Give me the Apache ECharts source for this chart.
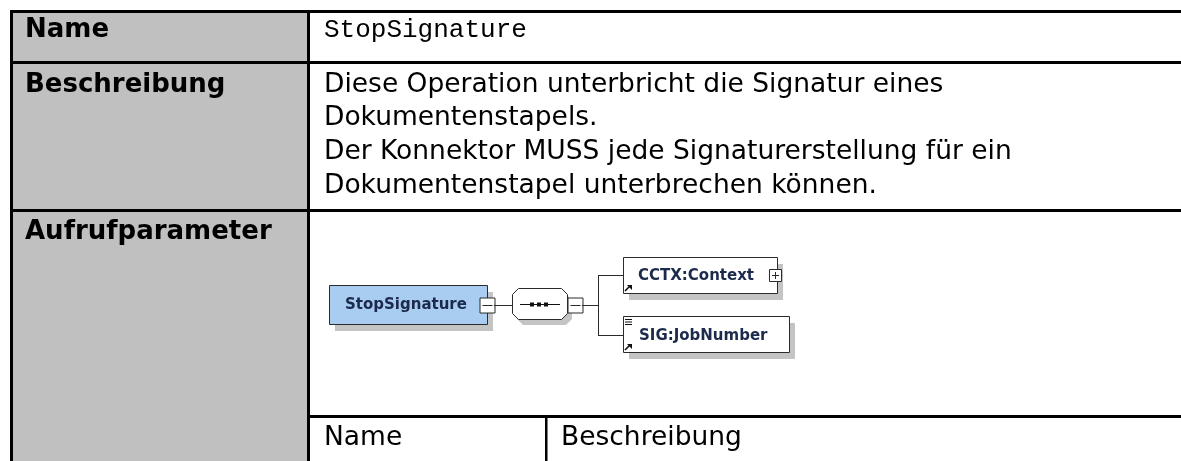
<!DOCTYPE html>
<html>
<head>
<meta charset="utf-8">
<script src="https://cdn.jsdelivr.net/npm/echarts@6/dist/echarts.min.js"></script>
<style>
html,body{margin:0;padding:0;background:#fff;}
#c{width:1181px;height:461px;}
</style>
</head>
<body>
<div id="c"></div>
<script>
// ---- content ----
const rowLabels = ['Name', 'Beschreibung', 'Aufrufparameter'];
const operationName = 'StopSignature';
const descriptionLines = [
  'Diese Operation unterbricht die Signatur eines',
  'Dokumentenstapels.',
  'Der Konnektor MUSS jede Signaturerstellung für ein',
  'Dokumentenstapel unterbrechen können.'
];
const subHeaders = ['Name', 'Beschreibung'];
const rootElement = 'StopSignature';
const childElements = ['CCTX:Context', 'SIG:JobNumber'];

// ---- layout ----
const W = 1181, H = 461;
const BOLD = 'bold 26px "DejaVu Sans"';
const REG = '26.5px "DejaVu Sans"';
const MONO = '26px "Liberation Mono"';
const DFONT = 'bold 15px "DejaVu Sans"';
const DCOL = '#1c2a4c';
const LINE = '#2b2b2b';
const SHADOW = '#c4c4c4';

const els = [];
let z = 0;
function rect(x, y, w, h, fill, stroke, lw) {
  els.push({type: 'rect', z: z++, shape: {x, y, width: w, height: h},
    style: {fill: fill || 'none', stroke: stroke || null, lineWidth: lw || 0}});
}
function line(x1, y1, x2, y2, col, lw) {
  els.push({type: 'line', z: z++, shape: {x1, y1, x2, y2},
    style: {stroke: col || LINE, lineWidth: lw || 1}});
}
function text(t, x, y, font, fill, align) {
  els.push({type: 'text', z: z++, x: 0, y: 0,
    style: {text: t, x, y, font, fill: fill || '#000',
      textAlign: align || 'left', textVerticalAlign: 'middle',
      align: align || 'left', verticalAlign: 'middle'}});
}
function poly(points, fill, stroke) {
  els.push({type: 'polygon', z: z++, shape: {points},
    style: {fill, stroke: stroke || null, lineWidth: stroke ? 1 : 0}});
}

// table background
rect(13, 13, 294, H, '#c0c0c0');
// borders
rect(10, 10, W, 3, '#000');
rect(10, 10, 3, H, '#000');
rect(307, 10, 3, H, '#000');
rect(10, 61, W, 3, '#000');
rect(10, 209, W, 3, '#000');
rect(310, 415, W, 3, '#000');
rect(545, 416, 2.5, H, '#000');

// row labels
const labelY = [30.5, 85, 232];
rowLabels.forEach((t, i) => text(t, 25, labelY[i], BOLD));
// name value
text(operationName, 324, 30, MONO);
// description
descriptionLines.forEach((t, i) => text(t, 324, 85 + i * 33.6, REG));
// sub headers
text(subHeaders[0], 324, 438, REG);
text(subHeaders[1], 561, 438, REG);

// ---- schema diagram ----
function elemBox(x, y, w, h, fill) {
  rect(x + 6, y + 7, w, h, SHADOW);
  rect(x + 0.5, y + 0.5, w, h, fill, LINE, 1);
}
function toggle(cx, cy, s, plus) {
  rect(cx - s / 2 + 0.5, cy - s / 2 + 0.5, s, s, '#fff', LINE, 1);
  line(cx - s / 2 + 3, cy + 0.5, cx + s / 2 - 2, cy + 0.5, LINE, 1);
  if (plus) line(cx + 0.5, cy - s / 2 + 3, cx + 0.5, cy + s / 2 - 2, LINE, 1);
}
function refArrow(x, y) {
  line(x, y + 6, x + 5, y + 1, '#111', 1.6);
  poly([[x + 2, y], [x + 7, y], [x + 7, y + 5]], '#111');
}

// root element
elemBox(329, 285, 158, 39, '#a8cdf1');
text(rootElement, 345, 305.5, DFONT, DCOL);
toggle(487, 305, 15, false);
line(494, 305.5, 512, 305.5);

// sequence compositor
const oc = (dx, dy) => [[512 + dx, 294 + dy], [518 + dx, 288 + dy], [561 + dx, 288 + dy], [567 + dx, 294 + dy],
  [567 + dx, 313 + dy], [561 + dx, 319 + dy], [518 + dx, 319 + dy], [512 + dx, 313 + dy]];
poly(oc(5, 6), SHADOW);
poly(oc(0.5, 0.5), '#fff', LINE);
line(520, 304.5, 560, 304.5, '#111', 1);
[532, 539, 546].forEach(x => rect(x - 2, 302.5, 4, 4, '#111'));
toggle(575, 305, 15, false);
line(582, 305.5, 598, 305.5);
line(598.5, 275, 598.5, 336);
line(598, 275.5, 623, 275.5);
line(598, 335.5, 623, 335.5);

// children
elemBox(623, 257, 154, 36, '#fff');
text(childElements[0], 638, 276.5, DFONT, DCOL);
refArrow(625, 285);
toggle(775, 275, 12, true);

elemBox(623, 316, 166, 36, '#fff');
text(childElements[1], 639, 336, DFONT, DCOL);
refArrow(625, 344);
[319, 321.5, 324].forEach(y => line(625, y + 0.5, 632, y + 0.5, '#111', 1));

const chart = echarts.init(document.getElementById('c'), null, {renderer: 'canvas'});
chart.setOption({
  backgroundColor: '#fff',
  animation: false,
  graphic: {elements: els}
});
</script>
</body>
</html>
